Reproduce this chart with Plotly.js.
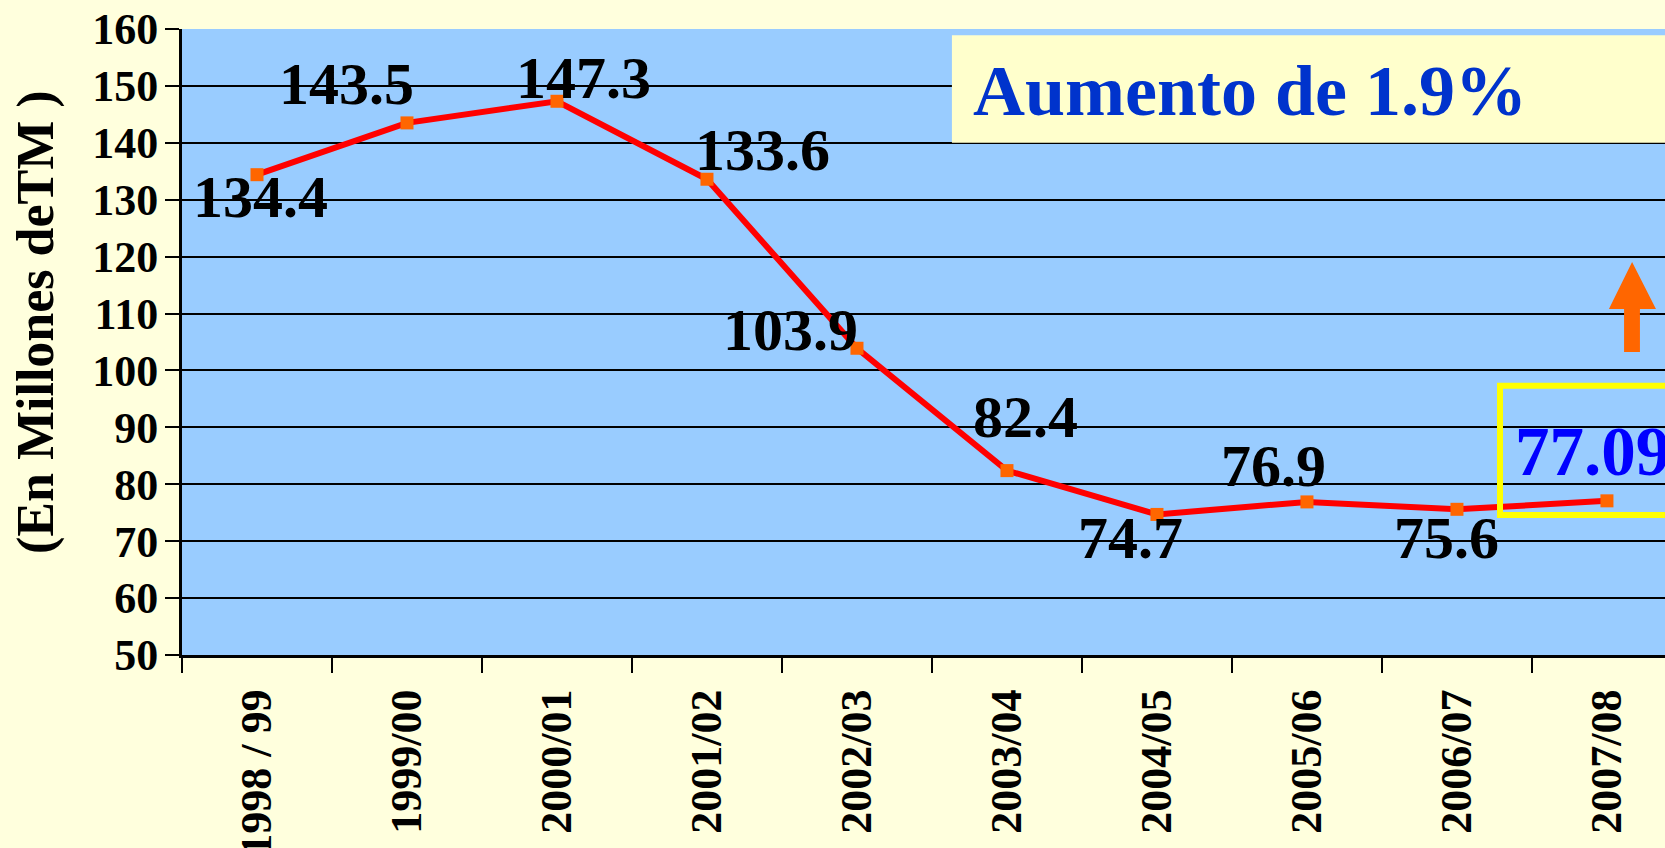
<!DOCTYPE html>
<html>
<head>
<meta charset="utf-8">
<script src="https://cdn.plot.ly/plotly-3.0.1.min.js"></script>
<style>
  html, body { margin: 0; padding: 0; background: #ffffdd; }
  #chart { width: 1665px; height: 848px; }
</style>
</head>
<body>
<div id="chart"></div>
<script>
// ---- data ----
const seasons = ["1998 / 99", "1999/00", "2000/01", "2001/02", "2002/03", "2003/04", "2004/05", "2005/06", "2006/07", "2007/08"];
const production = [134.4, 143.5, 147.3, 133.6, 103.9, 82.4, 74.7, 76.9, 75.6, 77.09];
const valueLabels = ["134.4", "143.5", "147.3", "133.6", "103.9", "82.4", "74.7", "76.9", "75.6", "77.09"];
const yTicks = [50, 60, 70, 80, 90, 100, 110, 120, 130, 140, 150, 160];
const highlightText = "Aumento de 1.9%";
const yTitleText = "(En Millones deTM )";

// label offsets in pixels (dx, dy) relative to each point
const labelDx = [3, -60, 27, 56, -66, 19, -26, -33, -10, -14];
const labelDy = [22, -39, -23, -29, -18, -54, 24, -36, 29, -49];

const serif = "Liberation Serif";

const trace = {
  type: "scatter",
  mode: "lines+markers",
  x: seasons,
  y: production,
  line: { color: "#ff0000", width: 6 },
  marker: { symbol: "square", size: 13, color: "#ff6600" },
  hoverinfo: "skip",
  cliponaxis: false
};

const annotations = production.map((v, i) => {
  const last = i === production.length - 1;
  return {
    xref: "x", yref: "y",
    x: seasons[i], y: v,
    text: "<b>" + valueLabels[i] + "</b>",
    showarrow: false,
    xanchor: "center", yanchor: "middle",
    xshift: labelDx[i], yshift: -labelDy[i],
    font: { family: serif, size: last ? 69 : 60, color: last ? "#0000ff" : "#000000" }
  };
});

annotations.push({
  xref: "paper", yref: "paper",
  x: (971 - 182) / 1483, y: (655 - 91) / 626,
  xanchor: "left", yanchor: "middle",
  text: "<b>" + highlightText + "</b>",
  showarrow: false,
  font: { family: serif, size: 72, color: "#0033cc" }
});

annotations.push({
  xref: "paper", yref: "paper",
  x: (36 - 182) / 1483, y: (655 - 322) / 626,
  xanchor: "center", yanchor: "middle",
  textangle: -90,
  text: "<b>" + yTitleText + "</b>",
  showarrow: false,
  font: { family: serif, size: 52, color: "#000000" }
});

const shapes = [
  {
    type: "rect", layer: "above",
    xref: "x", yref: "y",
    x0: 4.633, x1: 10, y0: 140, y1: 158.9,
    fillcolor: "#ffffcc", line: { width: 0 }
  },
  {
    type: "rect", layer: "above",
    xref: "x", yref: "y",
    x0: 8.287, x1: 10, y0: 74.6, y1: 97.3,
    fillcolor: "rgba(0,0,0,0)", line: { color: "#ffff00", width: 6 }
  },
  {
    type: "path", layer: "above",
    xref: "paper", yref: "paper",
    path: "M 0.9724,0.4840 L 0.9724,0.5527 L 0.9622,0.5527 L 0.9778,0.6278 L 0.9939,0.5527 L 0.9831,0.5527 L 0.9831,0.4840 Z",
    fillcolor: "#ff6600", line: { width: 0 }
  }
];

const layout = {
  width: 1665, height: 848,
  paper_bgcolor: "#ffffdd",
  plot_bgcolor: "#99ccff",
  margin: { l: 182, r: 0, t: 29, b: 193, pad: 0 },
  showlegend: false,
  hovermode: false,
  xaxis: {
    type: "category",
    range: [-0.5, 9.387],
    tickvals: seasons,
    ticktext: seasons.map(s => "<b>" + s + "</b>"),
    tickson: "boundaries",
    ticks: "outside", ticklen: 15, tickwidth: 2, tickcolor: "#000000",
    tickangle: -90,
    tickfont: { family: serif, size: 44, color: "#000000" },
    ticklabelstandoff: 14,
    showgrid: false,
    showline: true, linecolor: "#000000", linewidth: 3,
    zeroline: false, fixedrange: true
  },
  yaxis: {
    range: [50, 160],
    tickvals: yTicks,
    ticktext: yTicks.map(t => "<b>" + t + "</b>"),
    ticks: "outside", ticklen: 14, tickwidth: 2, tickcolor: "#000000",
    tickfont: { family: serif, size: 44, color: "#000000" },
    ticklabelstandoff: -2,
    showgrid: true, gridcolor: "#000000", gridwidth: 2,
    showline: true, linecolor: "#000000", linewidth: 3,
    zeroline: false, fixedrange: true
  },
  annotations: annotations,
  shapes: shapes
};

Plotly.newPlot("chart", [trace], layout, { displayModeBar: false, staticPlot: true });
</script>
</body>
</html>
